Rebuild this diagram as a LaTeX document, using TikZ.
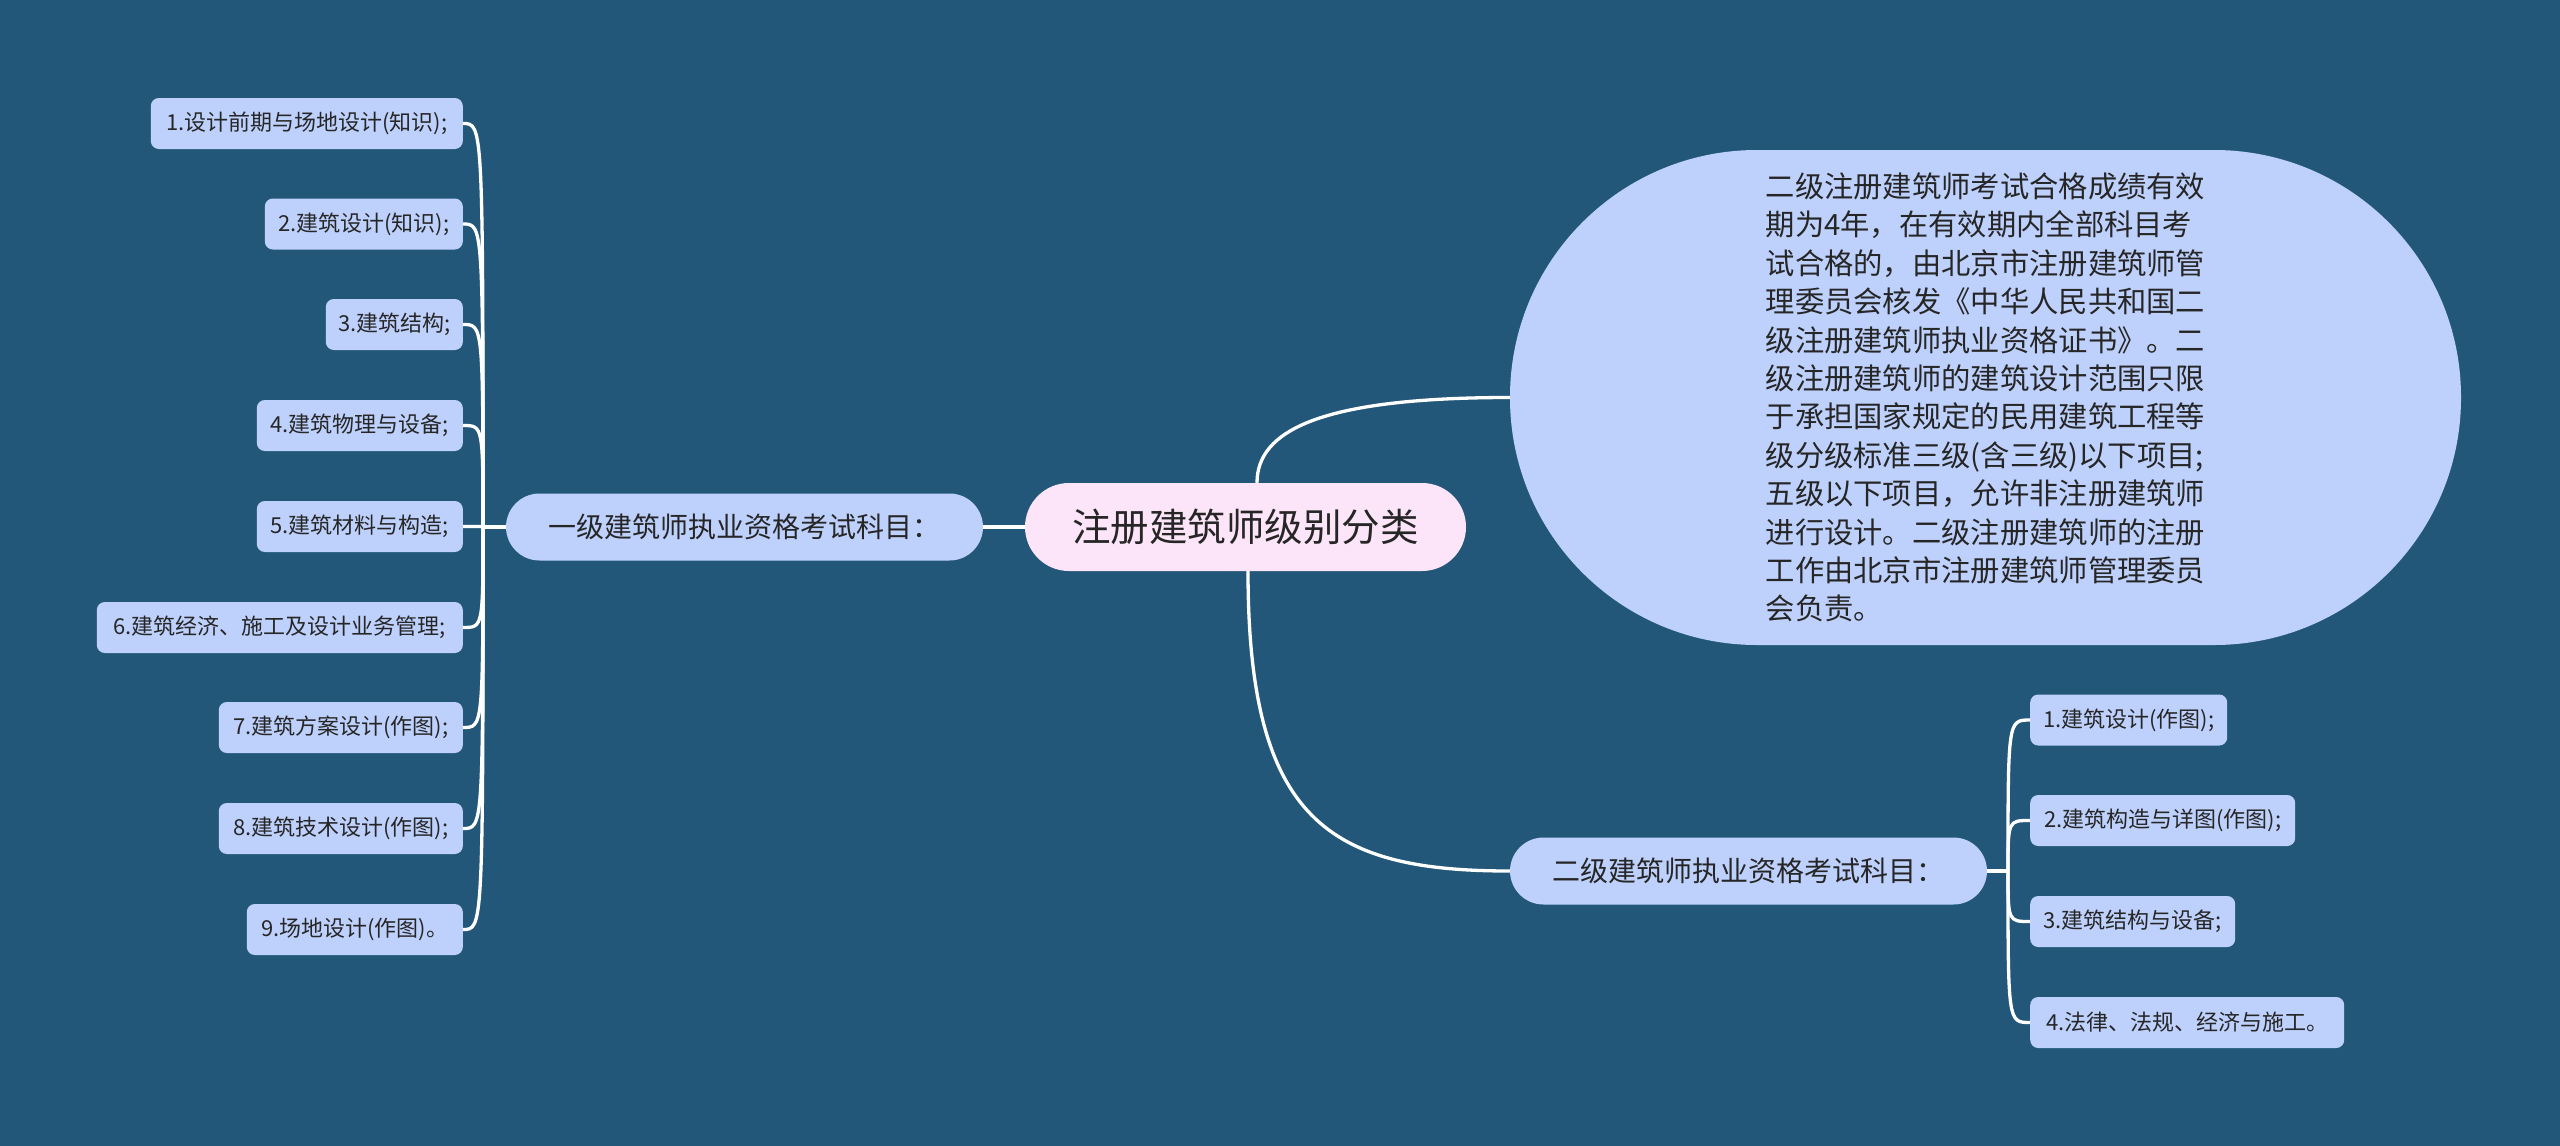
\documentclass[tikz,border=0pt]{standalone}
\usepackage{fontspec}
\setmainfont{Noto Sans CJK SC}
\definecolor{bgc}{HTML}{23577A}
\definecolor{leafc}{HTML}{BED1FC}
\definecolor{rootc}{HTML}{FCE5F8}
\definecolor{txtc}{HTML}{262626}
\tikzset{
  leaf/.style={fill=leafc, text=txtc, rounded corners=8pt, minimum height=51pt, inner xsep=12pt, inner ysep=0pt, font=\fontsize{22}{26}\selectfont},
  branch/.style={fill=leafc, text=txtc, rounded corners=33.5pt, minimum height=67pt, minimum width=477pt, inner sep=0pt, font=\fontsize{28}{32}\selectfont},
  rootnode/.style={fill=rootc, text=txtc, rounded corners=44pt, minimum height=88pt, minimum width=441pt, inner sep=0pt, font=\fontsize{38.5}{44}\selectfont},
  bubble/.style={fill=leafc, text=txtc, rounded corners=247pt, minimum height=495pt, minimum width=951pt, inner sep=0pt, align=left, font=\fontsize{29.3}{38.4}\selectfont},
  conn/.style={draw=white, line width=3.3pt},
}
\begin{document}
\begin{tikzpicture}[x=1pt,y=-1pt]
\fill[bgc] (0,0) rectangle (2560,1146);
\useasboundingbox (0,0) rectangle (2560,1146);

% root and branches
\node[rootnode] (C) at (1245.5,527) {注册建筑师级别分类};
\node[branch] (B1) at (744.5,527) {一级建筑师执业资格考试科目：};
\node[branch] (B2) at (1748.5,871) {二级建筑师执业资格考试科目：};
\node[bubble] (T) at (1985.5,397.5) {二级注册建筑师考试合格成绩有效\\期为4年，在有效期内全部科目考\\试合格的，由北京市注册建筑师管\\理委员会核发《中华人民共和国二\\级注册建筑师执业资格证书》。二\\级注册建筑师的建筑设计范围只限\\于承担国家规定的民用建筑工程等\\级分级标准三级(含三级)以下项目;\\五级以下项目，允许非注册建筑师\\进行设计。二级注册建筑师的注册\\工作由北京市注册建筑师管理委员\\会负责。};

% left leaves
\node[leaf, anchor=east, minimum width=312pt] (L1) at (463,123.5) {1.设计前期与场地设计(知识);};
\node[leaf, anchor=east, minimum width=198pt] (L2) at (463,224) {2.建筑设计(知识);};
\node[leaf, anchor=east, minimum width=137pt] (L3) at (463,324.5) {3.建筑结构;};
\node[leaf, anchor=east, minimum width=206pt] (L4) at (463,425.5) {4.建筑物理与设备;};
\node[leaf, anchor=east, minimum width=206pt] (L5) at (463,526.5) {5.建筑材料与构造;};
\node[leaf, anchor=east, minimum width=366pt] (L6) at (463,627.5) {6.建筑经济、施工及设计业务管理;};
\node[leaf, anchor=east, minimum width=244pt] (L7) at (463,727.5) {7.建筑方案设计(作图);};
\node[leaf, anchor=east, minimum width=244pt] (L8) at (463,828.5) {8.建筑技术设计(作图);};
\node[leaf, anchor=east, minimum width=216pt] (L9) at (463,929.5) {9.场地设计(作图)。};

% right leaves
\node[leaf, anchor=west, minimum width=197pt] (R1) at (2030,720) {1.建筑设计(作图);};
\node[leaf, anchor=west, minimum width=265pt] (R2) at (2030,820.5) {2.建筑构造与详图(作图);};
\node[leaf, anchor=west, minimum width=205pt] (R3) at (2030,921.5) {3.建筑结构与设备;};
\node[leaf, anchor=west, minimum width=314pt] (R4) at (2030,1022.5) {4.法律、法规、经济与施工。};

\coordinate (LH) at (483,527);
\coordinate (RH) at (2008,871);

% connectors
\draw[conn] (B1.east) -- (C.west);
\draw[conn] ([xshift=11.5pt]C.north) .. controls +(0,-52) and +(-190,0) .. (T.west);
\draw[conn] ([xshift=2.5pt]C.south) .. controls +(0,250) and +(-180,0) .. (B2.west);
\draw[conn] (B1.west) -- (LH);
\foreach \n in {L1,L2,L3,L4,L5,L6,L7,L8,L9}{
  \draw[conn] (LH) .. controls (LH |- \n.east) .. (\n.east);
}
\draw[conn] (B2.east) -- (RH);
\foreach \n in {R1,R2,R3,R4}{
  \draw[conn] (RH) .. controls (RH |- \n.west) .. (\n.west);
}
\end{tikzpicture}
\end{document}
